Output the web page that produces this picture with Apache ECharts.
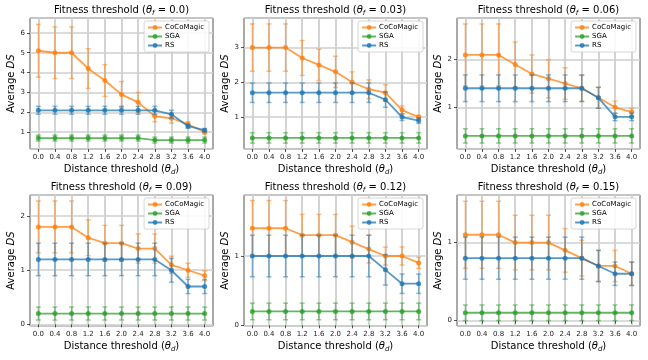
<!DOCTYPE html>
<html>
<head>
<meta charset="utf-8">
<script src="https://cdn.jsdelivr.net/npm/echarts@6/dist/echarts.min.js"></script>
<style>
  html, body { margin: 0; padding: 0; background: #fff; }
  #chart { width: 648px; height: 360px; }
</style>
</head>
<body>
<div id="chart"></div>
<script>
// distance thresholds (x categories) and fitness thresholds (one panel each)
const xLabels = ['0.0', '0.4', '0.8', '1.2', '1.6', '2.0', '2.4', '2.8', '3.2', '3.6', '4.0'];
const fitness = ['0.0', '0.03', '0.06', '0.09', '0.12', '0.15'];

// CoCoMagic mean / std per panel
const cocoMean = [
    [5.1, 5.0, 5.0, 4.2, 3.6, 2.9, 2.5, 1.8, 1.7, 1.4, 1.0],
    [3.0, 3.0, 3.0, 2.7, 2.5, 2.3, 2.0, 1.8, 1.7, 1.2, 1.0],
    [2.1, 2.1, 2.1, 1.9, 1.7, 1.6, 1.5, 1.4, 1.2, 1.0, 0.9],
    [1.8, 1.8, 1.8, 1.6, 1.5, 1.5, 1.4, 1.4, 1.1, 1.0, 0.9],
    [1.4, 1.4, 1.4, 1.3, 1.3, 1.3, 1.2, 1.1, 1.0, 1.0, 0.9],
    [1.1, 1.1, 1.1, 1.0, 1.0, 1.0, 0.9, 0.8, 0.7, 0.7, 0.6]
];
const cocoErr = [
    [1.33, 1.3, 1.3, 1.0, 0.8, 0.65, 0.5, 0.28, 0.25, 0.12, 0.08],
    [0.68, 0.68, 0.68, 0.5, 0.45, 0.45, 0.3, 0.27, 0.23, 0.12, 0.05],
    [0.65, 0.65, 0.65, 0.47, 0.4, 0.4, 0.33, 0.27, 0.22, 0.13, 0.08],
    [0.48, 0.48, 0.48, 0.33, 0.33, 0.33, 0.27, 0.27, 0.16, 0.13, 0.09],
    [0.4, 0.4, 0.4, 0.3, 0.3, 0.3, 0.23, 0.2, 0.13, 0.13, 0.08],
    [0.43, 0.43, 0.43, 0.35, 0.35, 0.35, 0.28, 0.23, 0.2, 0.2, 0.15]
];

// SGA mean / std per panel
const sgaMean = [
    [0.7, 0.7, 0.7, 0.7, 0.7, 0.7, 0.7, 0.6, 0.6, 0.6, 0.6],
    [0.4, 0.4, 0.4, 0.4, 0.4, 0.4, 0.4, 0.4, 0.4, 0.4, 0.4],
    [0.4, 0.4, 0.4, 0.4, 0.4, 0.4, 0.4, 0.4, 0.4, 0.4, 0.4],
    [0.2, 0.2, 0.2, 0.2, 0.2, 0.2, 0.2, 0.2, 0.2, 0.2, 0.2],
    [0.2, 0.2, 0.2, 0.2, 0.2, 0.2, 0.2, 0.2, 0.2, 0.2, 0.2],
    [0.1, 0.1, 0.1, 0.1, 0.1, 0.1, 0.1, 0.1, 0.1, 0.1, 0.1]
];
const sgaErr = [
    [0.15, 0.15, 0.15, 0.15, 0.15, 0.15, 0.15, 0.15, 0.15, 0.15, 0.15],
    [0.15, 0.15, 0.15, 0.15, 0.15, 0.15, 0.15, 0.15, 0.15, 0.15, 0.15],
    [0.15, 0.15, 0.15, 0.15, 0.15, 0.15, 0.15, 0.15, 0.15, 0.15, 0.15],
    [0.12, 0.12, 0.12, 0.12, 0.12, 0.12, 0.12, 0.12, 0.12, 0.12, 0.12],
    [0.12, 0.12, 0.12, 0.12, 0.12, 0.12, 0.12, 0.12, 0.12, 0.12, 0.12],
    [0.1, 0.1, 0.1, 0.1, 0.1, 0.1, 0.1, 0.1, 0.1, 0.1, 0.1]
];

// RS mean / std per panel
const rsMean = [
    [2.1, 2.1, 2.1, 2.1, 2.1, 2.1, 2.1, 2.1, 1.9, 1.3, 1.1],
    [1.7, 1.7, 1.7, 1.7, 1.7, 1.7, 1.7, 1.7, 1.5, 1.0, 0.9],
    [1.4, 1.4, 1.4, 1.4, 1.4, 1.4, 1.4, 1.4, 1.2, 0.8, 0.8],
    [1.2, 1.2, 1.2, 1.2, 1.2, 1.2, 1.2, 1.2, 1.0, 0.7, 0.7],
    [1.0, 1.0, 1.0, 1.0, 1.0, 1.0, 1.0, 1.0, 0.8, 0.6, 0.6],
    [0.8, 0.8, 0.8, 0.8, 0.8, 0.8, 0.8, 0.8, 0.7, 0.6, 0.6]
];
const rsErr = [
    [0.2, 0.2, 0.2, 0.2, 0.2, 0.2, 0.2, 0.2, 0.2, 0.1, 0.08],
    [0.28, 0.28, 0.28, 0.28, 0.28, 0.28, 0.28, 0.28, 0.22, 0.1, 0.08],
    [0.28, 0.28, 0.28, 0.28, 0.28, 0.28, 0.28, 0.28, 0.22, 0.08, 0.08],
    [0.3, 0.3, 0.3, 0.3, 0.3, 0.3, 0.3, 0.3, 0.22, 0.13, 0.13],
    [0.3, 0.3, 0.3, 0.3, 0.3, 0.3, 0.3, 0.3, 0.22, 0.14, 0.14],
    [0.27, 0.27, 0.27, 0.27, 0.27, 0.27, 0.27, 0.27, 0.2, 0.15, 0.15]
];

// y range of each panel
const yMin = [0.15, 0.08, 0.125, -0.03, -0.01, -0.07];
const yMax = [6.75, 3.85, 2.875, 2.39, 1.88, 1.61];
const ySplit = [5, 4, 3, 2, 2, 2];

const FONT = 'DejaVu Sans';
const W = 648;
const colLeft = [30, 244, 457];
const rowTop = [18, 195];
const gw = 183, gh = 131;
const GRID_COLOR = '#cfcfcf';

const methods = [
    { name: 'CoCoMagic', rgb: '255,127,14', mean: cocoMean, err: cocoErr },
    { name: 'SGA', rgb: '44,160,44', mean: sgaMean, err: sgaErr },
    { name: 'RS', rgb: '31,119,180', mean: rsMean, err: rsErr }
];

// vertical error bar with caps, drawn through the axis scales
function renderErr(params, api) {
    const x = api.value(0);
    const lo = api.coord([x, api.value(1)]);
    const hi = api.coord([x, api.value(2)]);
    const cap = 2.5;
    const style = { stroke: api.visual('color'), lineWidth: 1.5 };
    return {
        type: 'group',
        children: [
            { type: 'line', shape: { x1: lo[0], y1: lo[1], x2: hi[0], y2: hi[1] }, style: style },
            { type: 'line', shape: { x1: lo[0] - cap, y1: lo[1], x2: lo[0] + cap, y2: lo[1] }, style: style },
            { type: 'line', shape: { x1: hi[0] - cap, y1: hi[1], x2: hi[0] + cap, y2: hi[1] }, style: style }
        ]
    };
}

const mathRich = {
    t: { fontFamily: FONT, fontSize: 10, fontStyle: 'italic', color: '#000' },
    s: { fontFamily: FONT, fontSize: 7, fontStyle: 'italic', color: '#000', padding: [7, 0, 0, 0] },
    i: { fontFamily: FONT, fontSize: 10, fontStyle: 'italic', color: '#000' }
};

const grids = [], xAxes = [], yAxes = [], titles = [], legends = [], series = [];

for (let k = 0; k < 6; k++) {
    const left = colLeft[k % 3];
    const top = rowTop[Math.floor(k / 3)];

    grids.push({
        left: left, top: top, width: gw, height: gh,
        show: true, borderColor: '#262626', borderWidth: 0.8, backgroundColor: 'transparent'
    });

    titles.push({
        text: 'Fitness threshold ({t|θ}{s|f} = ' + fitness[k] + ')',
        left: left + gw / 2,
        top: top - 15,
        textAlign: 'center',
        padding: 0,
        textStyle: { fontFamily: FONT, fontSize: 10, fontWeight: 'normal', color: '#000', rich: mathRich }
    });

    xAxes.push({
        type: 'category',
        gridIndex: k,
        data: xLabels,
        boundaryGap: true,
        axisLine: { show: false },
        axisTick: { show: true, alignWithLabel: true, interval: 0, length: 3, lineStyle: { color: '#262626', width: 0.8 } },
        axisLabel: { interval: 0, fontFamily: FONT, fontSize: 7, color: '#222', margin: 5 },
        splitLine: { show: true, alignWithLabel: true, interval: 0, lineStyle: { color: GRID_COLOR, width: 1.8 } },
        name: 'Distance threshold ({t|θ}{s|d})',
        nameLocation: 'middle',
        nameGap: 13,
        nameTextStyle: { fontFamily: FONT, fontSize: 10, color: '#000', rich: mathRich }
    });

    yAxes.push({
        type: 'value',
        gridIndex: k,
        min: yMin[k],
        max: yMax[k],
        splitNumber: ySplit[k],
        minInterval: 1,
        maxInterval: 1,
        axisLine: { show: false },
        axisTick: { show: true, length: 3, lineStyle: { color: '#262626', width: 0.8 } },
        axisLabel: { showMinLabel: false, showMaxLabel: false, fontFamily: FONT, fontSize: 7, color: '#222', margin: 5 },
        splitLine: { show: true, lineStyle: { color: GRID_COLOR, width: 1.5 } },
        name: 'Average {i|DS}',
        nameLocation: 'middle',
        nameGap: 13,
        nameTextStyle: { fontFamily: FONT, fontSize: 10, color: '#000', rich: mathRich }
    });

    legends.push({
        data: methods.map(m => m.name),
        orient: 'vertical',
        right: W - (left + gw) + 4,
        top: top + 3,
        padding: [3, 5, 3, 3],
        itemGap: 2,
        itemWidth: 14,
        itemHeight: 6,
        borderColor: '#cccccc',
        borderWidth: 0.8,
        borderRadius: 2,
        backgroundColor: 'rgba(255,255,255,0.85)',
        selectedMode: false,
        textStyle: { fontFamily: FONT, fontSize: 7, color: '#000', padding: [0, 0, 0, -2] }
    });

    methods.forEach((m, j) => {
        const mean = m.mean[k];
        const err = m.err[k];
        series.push({
            name: m.name + ' err',
            type: 'custom',
            xAxisIndex: k,
            yAxisIndex: k,
            renderItem: renderErr,
            itemStyle: { color: 'rgba(' + m.rgb + ',0.5)' },
            encode: { x: 0, y: [1, 2] },
            data: mean.map((v, i) => [i, v - err[i], v + err[i]]),
            z: 2 + j * 2,
            silent: true
        });
        series.push({
            name: m.name,
            type: 'line',
            xAxisIndex: k,
            yAxisIndex: k,
            data: mean,
            symbol: 'circle',
            symbolSize: 5,
            lineStyle: { width: 1.8, color: 'rgba(' + m.rgb + ',0.75)' },
            itemStyle: { color: 'rgba(' + m.rgb + ',0.8)' },
            z: 3 + j * 2
        });
    });
}

const chart = echarts.init(document.getElementById('chart'));
chart.setOption({
    animation: false,
    backgroundColor: '#fff',
    title: titles,
    legend: legends,
    grid: grids,
    xAxis: xAxes,
    yAxis: yAxes,
    series: series
});
</script>
</body>
</html>
